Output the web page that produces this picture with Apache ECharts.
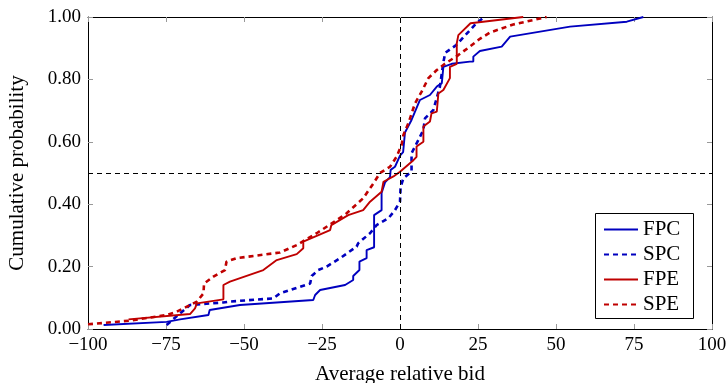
<!DOCTYPE html>
<html>
<head>
<meta charset="utf-8">
<script src="https://cdn.jsdelivr.net/npm/echarts@6/dist/echarts.min.js"></script>
<style>
  html, body { margin: 0; padding: 0; background: #fff; }
  #chart { width: 727px; height: 383px; }
</style>
</head>
<body>
<div id="chart"></div>
<script>
// 数据 (x = average relative bid, y = cumulative probability)
var fpc = [[-95,0.013],[-74.8,0.023],[-70.5,0.031],[-61.4,0.045],[-61,0.061],[-51.3,0.077],[-27.8,0.093],[-27.2,0.109],[-25.6,0.125],[-17.6,0.141],[-15,0.157],[-15,0.17],[-13,0.189],[-13,0.216],[-10.7,0.227],[-10.7,0.253],[-8.3,0.262],[-8.3,0.365],[-5.9,0.381],[-5.9,0.436],[-4.8,0.47],[-3.2,0.487],[-3,0.51],[-1.6,0.52],[0,0.556],[1,0.567],[1.6,0.63],[3.7,0.67],[6.4,0.734],[9.6,0.75],[11.8,0.777],[13.4,0.788],[13.9,0.84],[16.6,0.85],[22.4,0.857],[23.5,0.857],[23.5,0.873],[25.6,0.891],[32.6,0.905],[35.3,0.937],[54.5,0.969],[72.7,0.985],[78,1.0]];
var spc = [[-74.8,0.013],[-70.5,0.05],[-67.3,0.077],[-56.7,0.085],[-54.5,0.088],[-40.6,0.098],[-38.5,0.114],[-28.8,0.146],[-28.3,0.17],[-26.2,0.189],[-23.5,0.2],[-19.2,0.227],[-13.9,0.264],[-13.4,0.275],[-9.6,0.307],[-7.5,0.333],[-3.7,0.355],[-1.6,0.381],[0,0.408],[0.2,0.456],[1.1,0.483],[3.7,0.505],[3.7,0.563],[5.9,0.606],[7.5,0.638],[8,0.675],[10.7,0.702],[12.8,0.777],[13.4,0.82],[14,0.86],[14.5,0.885],[18,0.91],[24.5,0.98],[27,1.0]];
var fpe = [[-87,0.031],[-67.3,0.048],[-65.7,0.066],[-65.1,0.082],[-56.6,0.095],[-56.6,0.141],[-54.5,0.152],[-43.8,0.189],[-39.5,0.221],[-33.1,0.24],[-31,0.259],[-31,0.28],[-22.4,0.317],[-22,0.333],[-16.6,0.365],[-11.8,0.381],[-9.6,0.408],[-5.9,0.44],[-5.3,0.472],[-2.1,0.489],[0,0.504],[4.3,0.541],[5.3,0.552],[5.3,0.585],[7.5,0.6],[7.5,0.649],[9.6,0.665],[10.1,0.691],[11.8,0.697],[12.3,0.755],[13.9,0.766],[16,0.804],[16,0.84],[18.2,0.85],[18.2,0.916],[18.7,0.942],[22.6,0.98],[22.6,0.985],[39.5,1.0]];
var spe = [[-100,0.015],[-86.5,0.027],[-74.8,0.045],[-71.6,0.055],[-65.1,0.088],[-63,0.114],[-62.8,0.146],[-59.8,0.168],[-56.1,0.189],[-55.6,0.216],[-52.4,0.227],[-38.5,0.245],[-33.1,0.269],[-26.7,0.307],[-20.3,0.349],[-17.1,0.371],[-11.8,0.419],[-8.5,0.467],[-6.4,0.5],[-3.2,0.52],[-1.1,0.552],[0.5,0.59],[1.1,0.622],[2.7,0.66],[4.8,0.723],[6.9,0.76],[9.1,0.804],[11.8,0.83],[14.4,0.85],[18.7,0.878],[22.4,0.905],[25.6,0.93],[28.8,0.95],[36.3,0.976],[47,1.0]];

var seriesNames = ['FPC', 'SPC', 'FPE', 'SPE'];

var BLUE = '#0000bf', RED = '#bf0000';
var FONT = 'Liberation Serif';

var myChart = echarts.init(document.getElementById('chart'));

function mkLine(name, data, color, dashed) {
  return {
    name: name,
    type: 'line',
    data: data,
    symbol: 'none',
    animation: false,
    lineStyle: { color: color, width: dashed ? 2.6 : 1.9, type: dashed ? [5, 4] : 'solid' },
    itemStyle: { color: color }
  };
}

var tickStyle = { show: true, inside: true, length: 5, lineStyle: { color: '#999' } };
var frameLine = { show: true, onZero: false, lineStyle: { color: '#000' } };

var option = {
  animation: false,
  grid: { left: 88, right: 15, top: 17, bottom: 54, outerBoundsMode: 'none', containLabel: false },
  // 图例边框
  graphic: [{
    type: 'rect', left: 595, top: 213, z: 3,
    shape: { width: 98, height: 105 },
    style: { fill: '#fff', stroke: '#000', lineWidth: 1 }
  }],
  legend: {
    orient: 'vertical',
    left: 595, top: 213, z: 10,
    itemWidth: 34, itemHeight: 14, itemGap: 4,
    padding: [6, 8, 6, 8],
    itemStyle: { opacity: 0 },
    textStyle: { fontFamily: FONT, fontSize: 21, color: '#000' },
    data: seriesNames
  },
  xAxis: [{
    type: 'value', min: -100, max: 100, interval: 25,
    name: 'Average relative bid', nameLocation: 'middle', nameGap: 35,
    nameTextStyle: { fontFamily: FONT, fontSize: 21, color: '#000' },
    axisLine: frameLine,
    axisTick: tickStyle,
    axisLabel: { fontFamily: FONT, fontSize: 19, color: '#000', margin: 7,
      formatter: function (v) { return String(v).replace('-', '\u2212'); } },
    splitLine: { show: false }
  }, {
    type: 'value', min: -100, max: 100, interval: 25, position: 'top',
    axisLine: frameLine,
    axisTick: tickStyle, axisLabel: { show: false }, splitLine: { show: false }
  }],
  yAxis: [{
    type: 'value', min: 0, max: 1, interval: 0.2,
    name: 'Cumulative probability', nameLocation: 'middle', nameGap: 60,
    nameTextStyle: { fontFamily: FONT, fontSize: 21, color: '#000' },
    axisLine: frameLine,
    axisTick: tickStyle,
    axisLabel: { fontFamily: FONT, fontSize: 19, color: '#000', margin: 7,
      formatter: function (v) { return v.toFixed(2); } },
    splitLine: { show: false }
  }, {
    type: 'value', min: 0, max: 1, interval: 0.2, position: 'right',
    axisLine: frameLine,
    axisTick: tickStyle, axisLabel: { show: false }, splitLine: { show: false }
  }],
  series: [
    {
      // 参考虚线 x=0, y=0.5
      type: 'line', data: [], silent: true,
      markLine: {
        silent: true, symbol: 'none', animation: false,
        label: { show: false },
        lineStyle: { color: '#000', width: 1, type: [5, 4] },
        data: [{ xAxis: 0 }, { yAxis: 0.5 }]
      }
    },
    mkLine('FPC', fpc, BLUE, false),
    mkLine('SPC', spc, BLUE, true),
    mkLine('FPE', fpe, RED, false),
    mkLine('SPE', spe, RED, true)
  ]
};
option && myChart.setOption(option);
</script>
</body>
</html>
